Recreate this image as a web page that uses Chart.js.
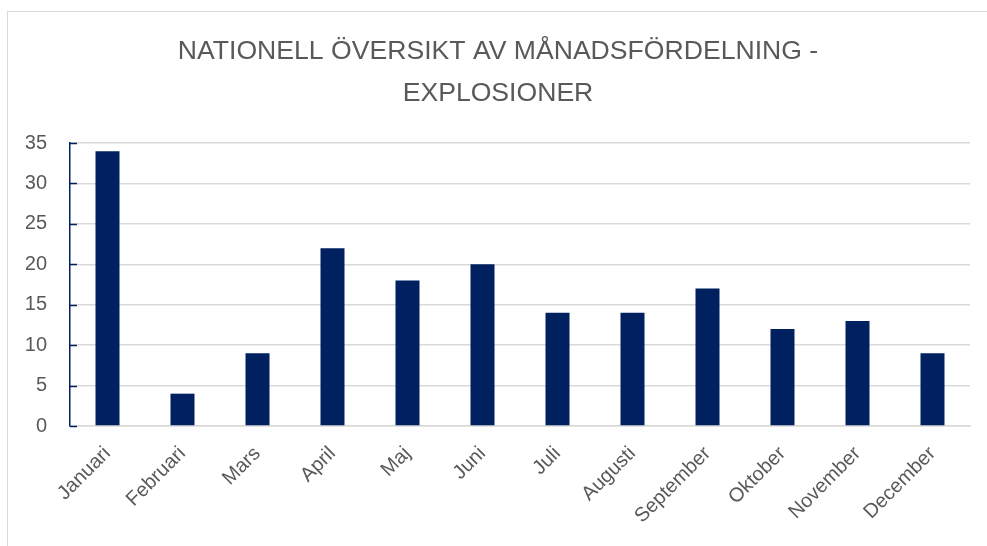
<!DOCTYPE html>
<html>
<head>
<meta charset="utf-8">
<script src="https://cdn.jsdelivr.net/npm/chart.js@4/dist/chart.umd.min.js"></script>
<style>
    html, body { margin: 0; padding: 0; background: #fff; overflow: hidden; }
    #frame { position: absolute; left: 7px; top: 11px; width: 1100px; height: 700px; border: 1px solid #d9d9d9; }
    #wrap { position: absolute; left: 0; top: 0; width: 987px; height: 546px; }
</style>
</head>
<body>
<div id="frame"></div>
<div id="wrap"><canvas id="mainCanvas"></canvas></div>
<script>
const months = ['Januari', 'Februari', 'Mars', 'April', 'Maj', 'Juni', 'Juli', 'Augusti', 'September', 'Oktober', 'November', 'December'];
const explosions = [34, 4, 9, 22, 18, 20, 14, 14, 17, 12, 13, 9];
const titleLines = ['NATIONELL ÖVERSIKT AV MÅNADSFÖRDELNING -', 'EXPLOSIONER'];

const navy = '#002060';
const grey = '#595959';
const gridGrey = '#d9d9d9';

// little navy tick marks drawn inward from the y axis
const innerTicks = {
    id: 'innerTicks',
    afterDatasetsDraw(chart) {
        const y = chart.scales.y;
        const c = chart.ctx;
        c.save();
        c.strokeStyle = navy;
        c.lineWidth = 1.5;
        y.ticks.forEach(t => {
            const py = Math.round(y.getPixelForValue(t.value)) + 0.5;
            c.beginPath();
            c.moveTo(y.right, py);
            c.lineTo(y.right + 7, py);
            c.stroke();
        });
        c.restore();
    }
};

let ctx = document.getElementById('mainCanvas').getContext('2d');

window.myChart = new Chart(ctx, {
    type: 'bar',
    data: {
        labels: months,
        datasets: [{
            data: explosions,
            backgroundColor: navy,
            barPercentage: 0.32,
            categoryPercentage: 1,
        }],
    },
    options: {
        responsive: true,
        maintainAspectRatio: false,
        animation: false,
        layout: { padding: { top: 31, right: 17, left: 26, bottom: 0 } },
        plugins: {
            legend: { display: false },
            tooltip: { enabled: false },
            title: {
                display: true,
                text: titleLines,
                color: grey,
                font: { family: 'Liberation Sans', size: 26.6, weight: 'normal', lineHeight: 1.58 },
                padding: { top: 0, bottom: 28 },
            },
        },
        scales: {
            x: {
                grid: { display: false },
                border: { color: gridGrey, width: 1.5 },
                ticks: {
                    color: grey,
                    font: { family: 'Liberation Sans', size: 20 },
                    minRotation: 45,
                    maxRotation: 45,
                    padding: 8,
                },
                afterFit(scale) { scale.height = 120; },
            },
            y: {
                min: 0,
                max: 35,
                ticks: {
                    stepSize: 5,
                    color: grey,
                    font: { family: 'Liberation Sans', size: 20 },
                    padding: 23,
                },
                grid: { color: gridGrey, lineWidth: 1.5, drawTicks: false },
                border: { color: navy, width: 1.5 },
                afterFit(scale) { scale.width = 44; },
            },
        },
    },
    plugins: [innerTicks],
});
</script>
</body>
</html>
